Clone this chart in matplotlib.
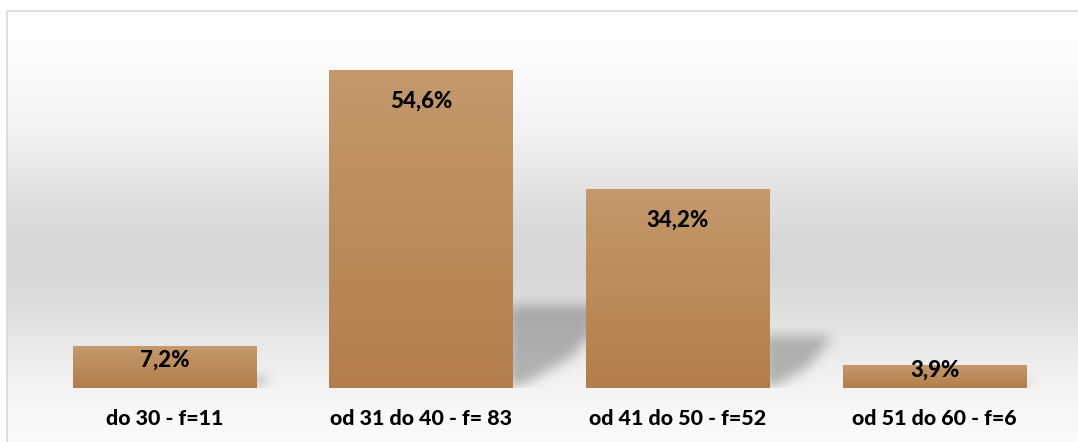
import numpy as np
import matplotlib
matplotlib.use("Agg")
import matplotlib.pyplot as plt
from matplotlib.colors import LinearSegmentedColormap
from matplotlib.path import Path as MplPath

plt.rcParams["font.family"] = ["Lato", "DejaVu Sans"]

categories = ["do 30 - f=11", "od 31 do 40 - f= 83", "od 41 do 50 - f=52", "od 51 do 60 - f=6"]
values = [7.2, 54.6, 34.2, 3.9]
labels = ["7,2%", "54,6%", "34,2%", "3,9%"]

W, H = 1078, 442
fig = plt.figure(figsize=(W / 100, H / 100), dpi=100)

# background with vertical grey gradient inside a thin frame
bg = fig.add_axes([0, 0, 1, 1], zorder=0)
bg.set_xlim(0, W)
bg.set_ylim(H, 0)
bg.axis("off")
rows = np.arange(H)
stops_y = [10, 60, 130, 190, 230, 270, 320, 370, 410, 442]
stops_v = [255, 252, 243, 226, 217, 215, 226, 240, 248, 250]
col = np.interp(rows, stops_y, stops_v) / 255.0
img = np.ones((H, W, 3))
img[:, :, :] = col[:, None, None]
img[:10, :, :] = 1.0
img[:, :7, :] = 1.0
bg.imshow(img, extent=(0, W, H, 0), aspect="auto", interpolation="bilinear")
bg.plot([6.5, 6.5, W], [H, 10.5, 10.5], color="#d9d9d9", lw=1.2)

# main chart
left, right = 36 / W, 1063 / W
bottom, top = (H - 388) / H, (H - 39) / H
ax = fig.add_axes([left, bottom, right - left, top - bottom], zorder=1)
ax.patch.set_alpha(0)
ax.set_xlim(-0.5, 3.5)
ax.set_ylim(0, 60)

bars = ax.bar(range(len(values)), values, width=0.715, color="none", zorder=3)

# soft cast shadows to the right of each bar
nx, ny = 1027, 349
gx = np.linspace(-0.5, 3.5, nx)
gy = np.linspace(0, 60, ny)
XX, YY = np.meshgrid(gx, gy)
pts = np.column_stack([XX.ravel(), YY.ravel()])
mask = np.zeros(XX.shape)
for b, v in zip(bars, values):
    xr = b.get_x() + b.get_width()
    dx = 0.0072 * v
    poly = [(xr - 0.02, 0), (xr - 0.02, 0.26 * v), (xr + dx, 0.26 * v),
            (xr + 0.6 * dx, 0.1 * v), (xr + 0.05 * dx, 0)]
    mask = np.maximum(mask, MplPath(poly).contains_points(pts).reshape(XX.shape))


def box_blur(a, k):
    kern = np.ones(k) / k
    a = np.apply_along_axis(lambda r: np.convolve(r, kern, mode="same"), 1, a)
    a = np.apply_along_axis(lambda c: np.convolve(c, kern, mode="same"), 0, a)
    return a


shadow = box_blur(box_blur(mask, 15), 13)
rgba = np.zeros((ny, nx, 4))
rgba[:, :, :3] = 0.4
rgba[:, :, 3] = shadow * 0.45
ax.imshow(rgba, extent=(-0.5, 3.5, 0, 60), origin="lower", aspect="auto", zorder=2)

# gradient fill for bars
cmap = LinearSegmentedColormap.from_list("tan", ["#b37e4a", "#c4996d"])
grad = np.linspace(0, 1, 256)[:, None]
for b in bars:
    x0, w, h = b.get_x(), b.get_width(), b.get_height()
    ax.imshow(grad, extent=(x0, x0 + w, 0, h), origin="lower", cmap=cmap,
              aspect="auto", zorder=3, interpolation="bilinear")

for i, (v, lab) in enumerate(zip(values, labels)):
    y = max(v - 5.3, v / 2 + 1.2)
    ax.text(i, y, lab, ha="center", va="center", fontsize=16,
            fontweight="black", color="black", zorder=5)

ax.set_xlim(-0.5, 3.5)
ax.set_ylim(0, 60)
ax.set_xticks(range(len(categories)))
ax.set_xticklabels(categories, fontsize=15.4, fontweight="black")
ax.tick_params(axis="x", length=0, pad=15)
ax.set_yticks([])
for s in ax.spines.values():
    s.set_visible(False)

fig.savefig("out.png", dpi=100)
